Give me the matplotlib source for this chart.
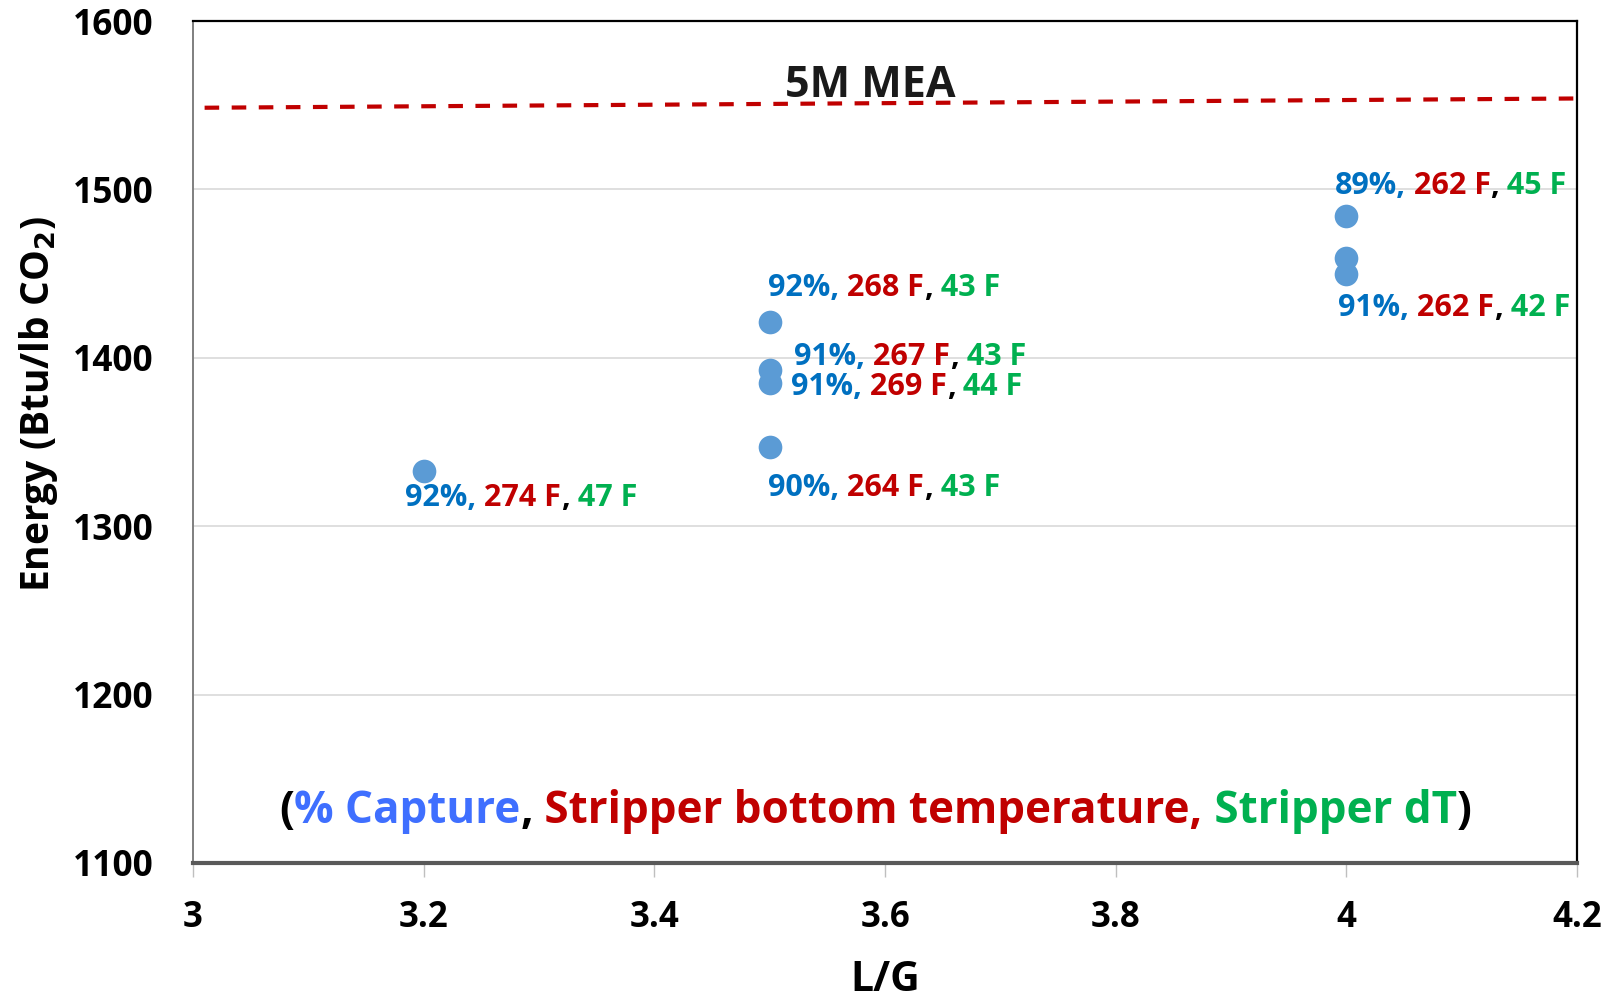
import matplotlib
matplotlib.use("Agg")
import matplotlib.pyplot as plt

plt.rcParams['font.family'] = ['Open Sans', 'DejaVu Sans']
plt.rcParams['font.weight'] = 'bold'
plt.rcParams['axes.labelweight'] = 'bold'

BLUE = '#0070C0'
RED = '#C00000'
GREEN = '#00B050'
DOT = '#5B9BD5'

# L/G ratio and reboiler energy for each run
lg = [3.2, 3.5, 3.5, 3.5, 3.5, 4.0, 4.0, 4.0]
energy = [1333, 1421, 1393, 1385, 1347, 1484, 1459, 1450]

# baseline 5M MEA energy
mea_x = [3.01, 4.2]
mea_y = [1548.5, 1554]

# run labels: (capture, stripper bottom T, stripper dT), anchor point, pixel offset
run_labels = [
    ('92%,', '274 F', '47 F', 0, (-19, -42)),
    ('92%,', '268 F', '43 F', 1, (-2, 19)),
    ('91%,', '267 F', '43 F', 2, (24, -2)),
    ('91%,', '269 F', '44 F', 3, (21, -19)),
    ('90%,', '264 F', '43 F', 4, (-2, -56)),
    ('89%,', '262 F', '45 F', 5, (-12, 15)),
    ('91%,', '262 F', '42 F', 7, (-8, -49)),
]

fig = plt.figure(figsize=(16.17, 10.01), dpi=100)
ax = fig.add_axes([0.1194, 0.1379, 0.8559, 0.8411])

ax.set_xlim(3, 4.2)
ax.set_ylim(1100, 1600)
ax.set_xticks([3, 3.2, 3.4, 3.6, 3.8, 4, 4.2])
ax.set_xticklabels(['3', '3.2', '3.4', '3.6', '3.8', '4', '4.2'])
ax.set_yticks([1100, 1200, 1300, 1400, 1500, 1600])
ax.yaxis.grid(True, color='#D9D9D9', linewidth=1.2)
ax.set_axisbelow(True)

ax.tick_params(axis='y', length=0, pad=28.5, labelsize=25.5)
ax.tick_params(axis='x', length=10, width=1, color='#BFBFBF', direction='out',
               pad=17, labelsize=25)

for side in ('top', 'right'):
    ax.spines[side].set_color('black')
    ax.spines[side].set_linewidth(1.6)
ax.spines['left'].set_color('#7F7F7F')
ax.spines['left'].set_linewidth(1.4)
ax.spines['bottom'].set_color('#595959')
ax.spines['bottom'].set_linewidth(3)

ax.plot(mea_x, mea_y, color=RED, linestyle=(0, (3.5, 3)), linewidth=3)
ax.text(3.587, 1562, '5M MEA', fontsize=31, ha='center', va='center', color='#1A1A1A')

ax.scatter(lg, energy, s=290, color=DOT, zorder=3, linewidths=0)


def multicolor(parts, xy, offset, size):
    """Chain text pieces left to right, each in its own colour."""
    txt, color = parts[0]
    prev = ax.annotate(txt, xy=xy, xycoords='data', xytext=offset,
                       textcoords='offset pixels', color=color,
                       fontsize=size, ha='left', va='bottom')
    for txt, color in parts[1:]:
        prev = ax.annotate(txt, xy=(1, 0), xycoords=prev, xytext=(0, 0),
                           textcoords='offset pixels', color=color,
                           fontsize=size, ha='left', va='bottom')
    return prev


for cap, tbot, dt, idx, off in run_labels:
    multicolor([(cap, BLUE), (' ' + tbot, RED), (',', 'black'), (' ' + dt, GREEN)],
               (lg[idx], energy[idx]), off, 22)

# colour key along the bottom of the plot
key = [('(', 'black'), ('% Capture', '#3F6FFF'), (',', 'black'),
       (' Stripper bottom temperature,', RED), (' Stripper dT', GREEN), (')', 'black')]
multicolor(key, (3.075, 1117), (0, 0), 31.7)

ax.set_xlabel('L/G', fontsize=29.5, labelpad=17)
ax.set_ylabel('Energy (Btu/lb CO$_\\mathbf{2}$)', fontsize=28)
ax.yaxis.set_label_coords(-0.096, 0.545)

fig.savefig('out.png', dpi=100)
